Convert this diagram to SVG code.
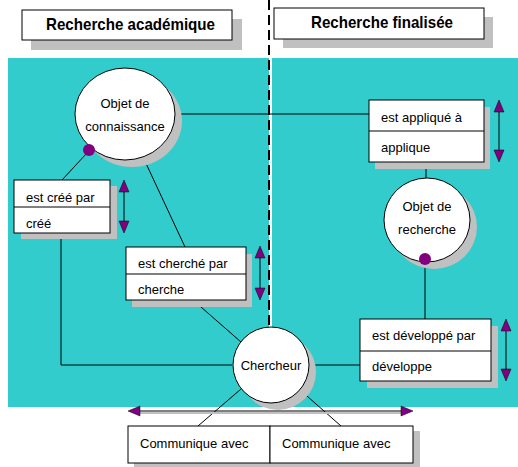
<svg xmlns="http://www.w3.org/2000/svg" width="518" height="467" viewBox="0 0 518 467">
<defs>
<style>
.t{font-family:"Liberation Sans",Arial,sans-serif;font-size:13px;fill:#000}
.h{font-family:"Liberation Sans",Arial,sans-serif;font-size:17px;font-weight:bold;fill:#000}
.box{fill:#fff;stroke:#000;stroke-width:1}
.sh{fill:#c0c0c0}
.ln{stroke:#000;stroke-width:1;fill:none}
.ar{stroke:#000;stroke-width:1}
.hd{fill:#800080;stroke:#000;stroke-width:0.5}
.dot{fill:#800080}
</style>
</defs>
<rect width="518" height="467" fill="#fff"/>
<rect x="8" y="58" width="510" height="349" fill="#33cccc"/>
<line x1="270.5" y1="0" x2="270.5" y2="327" stroke="#fff" stroke-width="3"/>
<line x1="269" y1="0" x2="269" y2="327" stroke="#000" stroke-width="2" stroke-dasharray="10,5"/>

<g id="header-academique">
<rect class="sh" x="31" y="19" width="211" height="31"/>
<rect class="box" x="22" y="10" width="210" height="30"/>
<text class="h" x="46" y="30" textLength="169" lengthAdjust="spacingAndGlyphs">Recherche académique</text>
</g>
<g id="header-finalisee">
<rect class="sh" x="283" y="17" width="210" height="31"/>
<rect class="box" x="274" y="8" width="210" height="31"/>
<text class="h" x="311" y="28" textLength="142" lengthAdjust="spacingAndGlyphs">Recherche finalisée</text>
</g>

<g id="connectors">
<line class="ln" x1="175" y1="114" x2="369" y2="114"/>
<line class="ln" x1="87" y1="153" x2="62" y2="180"/>
<polyline class="ln" points="61,233 61,365 232,365"/>
<line class="ln" x1="143" y1="157" x2="185" y2="247"/>
<line class="ln" x1="193" y1="300" x2="241" y2="342"/>
<line class="ln" x1="310" y1="365" x2="360" y2="365"/>
<line class="ln" x1="426" y1="162" x2="426" y2="178"/>
<line class="ln" x1="425" y1="259" x2="425" y2="319"/>
<line class="ln" x1="241" y1="389" x2="198" y2="426"/>
<line class="ln" x1="299" y1="389" x2="341" y2="426"/>
<!-- bottom double arrow -->
<line x1="135" y1="413" x2="406" y2="413" stroke="#c0c0c0" stroke-width="2"/>
<line class="ar" x1="135" y1="411" x2="406" y2="411"/>
<polygon class="hd" points="128,411 140,406 140,416"/>
<polygon class="hd" points="413,411 401,406 401,416"/>
<!-- vertical double arrows -->
<g id="arrow-cree">
<line class="ar" x1="124" y1="190" x2="124" y2="223"/>
<polygon class="hd" points="124,180 119,192 129,192"/>
<polygon class="hd" points="124,233 119,221 129,221"/>
</g>
<g id="arrow-cherche">
<line class="ar" x1="260" y1="256" x2="260" y2="290"/>
<polygon class="hd" points="260,246 255,258 265,258"/>
<polygon class="hd" points="260,300 255,288 265,288"/>
</g>
<g id="arrow-applique">
<line class="ar" x1="499" y1="110" x2="499" y2="152"/>
<polygon class="hd" points="499,100 494,112 504,112"/>
<polygon class="hd" points="499,162 494,150 504,150"/>
</g>
<g id="arrow-developpe">
<line class="ar" x1="506" y1="329" x2="506" y2="371"/>
<polygon class="hd" points="506,319 501,331 511,331"/>
<polygon class="hd" points="506,381 501,369 511,369"/>
</g>
</g>

<g id="objet-connaissance">
<ellipse class="sh" cx="132" cy="121" rx="50" ry="46"/>
<ellipse class="box" cx="125" cy="114" rx="50" ry="46"/>
<text class="t" x="125" y="108" text-anchor="middle">Objet de</text>
<text class="t" x="125" y="131" text-anchor="middle">connaissance</text>
<circle class="dot" cx="89" cy="150" r="6"/>
</g>

<g id="est-cree-par">
<rect class="sh" x="21" y="186" width="96" height="53"/>
<rect class="box" x="14" y="180" width="96" height="53"/>
<line class="ln" x1="14" y1="207" x2="110" y2="207"/>
<text class="t" x="26" y="202">est créé par</text>
<text class="t" x="26" y="228">créé</text>
</g>

<g id="est-cherche-par">
<rect class="sh" x="132" y="254" width="120" height="53"/>
<rect class="box" x="126" y="247" width="120" height="53"/>
<line class="ln" x1="126" y1="274" x2="246" y2="274"/>
<text class="t" x="138" y="268">est cherché par</text>
<text class="t" x="138" y="294">cherche</text>
</g>

<g id="est-applique-a">
<rect class="sh" x="375" y="107" width="115" height="62"/>
<rect class="box" x="369" y="100" width="115" height="62"/>
<line class="ln" x1="369" y1="131" x2="484" y2="131"/>
<text class="t" x="381" y="122">est appliqué à</text>
<text class="t" x="381" y="152">applique</text>
</g>

<g id="objet-recherche">
<ellipse class="sh" cx="434" cy="227" rx="43" ry="42"/>
<ellipse class="box" cx="427" cy="220" rx="43" ry="42"/>
<text class="t" x="427" y="211" text-anchor="middle">Objet de</text>
<text class="t" x="427" y="234" text-anchor="middle">recherche</text>
<circle class="dot" cx="425" cy="259" r="6"/>
</g>

<g id="est-developpe-par">
<rect class="sh" x="367" y="326" width="131" height="62"/>
<rect class="box" x="360" y="319" width="131" height="62"/>
<line class="ln" x1="360" y1="351" x2="491" y2="351"/>
<text class="t" x="372" y="340">est développé par</text>
<text class="t" x="372" y="371">développe</text>
</g>

<g id="chercheur">
<circle class="sh" cx="278" cy="372" r="38"/>
<circle class="box" cx="271" cy="365" r="38"/>
<text class="t" x="271" y="370" text-anchor="middle">Chercheur</text>
</g>

<g id="communique-avec">
<rect class="sh" x="134" y="431" width="286" height="36"/>
<rect class="box" x="128" y="426" width="142" height="37"/>
<rect class="box" x="270" y="426" width="143" height="37"/>
<text class="t" x="140" y="448">Communique avec</text>
<text class="t" x="282" y="448">Communique avec</text>
</g>
</svg>
